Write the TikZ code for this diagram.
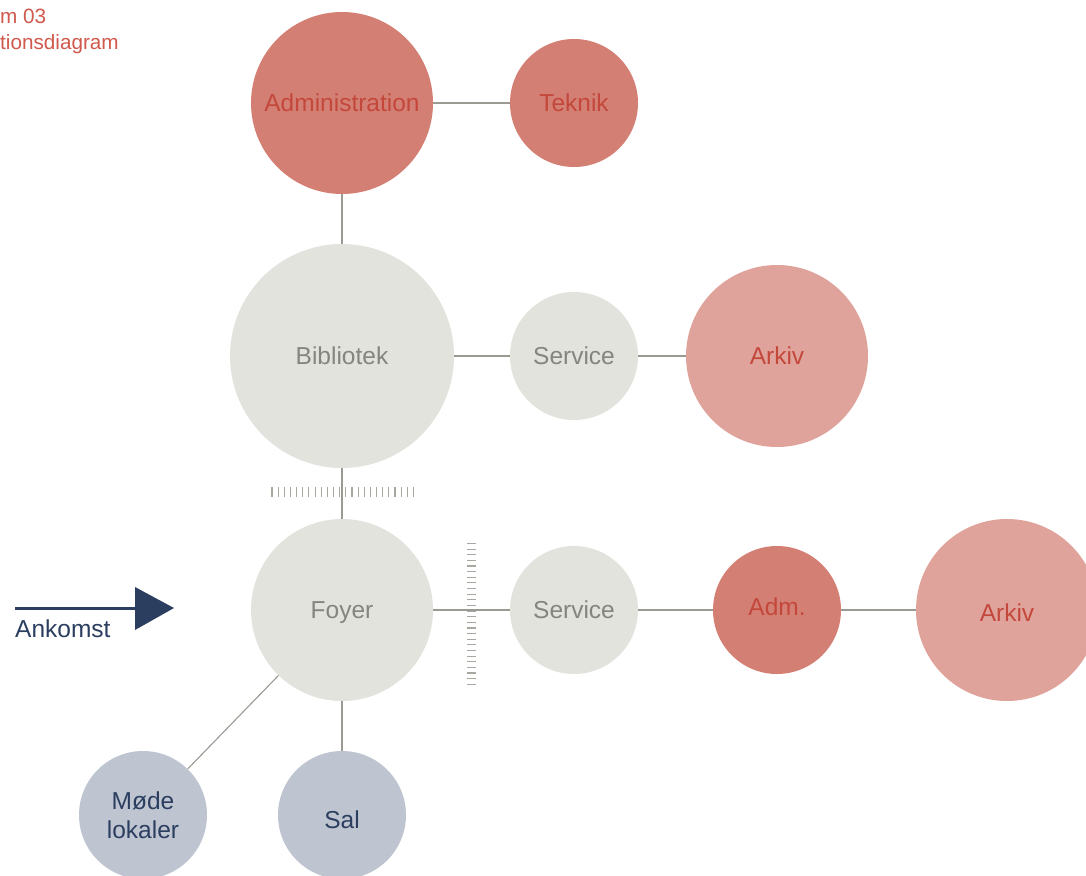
\documentclass[tikz,border=0pt]{standalone}
\usepackage{fontspec}
\setmainfont{Liberation Sans}
\definecolor{redfill}{HTML}{D47F73}
\definecolor{redtext}{HTML}{C4473C}
\definecolor{pinkfill}{HTML}{E0A39B}
\definecolor{greyfill}{HTML}{E3E3DD}
\definecolor{greytext}{HTML}{85857F}
\definecolor{bluefill}{HTML}{BFC5D0}
\definecolor{bluetext}{HTML}{2B3E60}
\definecolor{linecol}{HTML}{9A9A92}
\definecolor{tickcol}{HTML}{A8A8A0}
\definecolor{titlecol}{HTML}{D0594C}
\tikzset{
  bub/.style={circle, inner sep=0pt, font=\fontsize{24.5}{29}\selectfont, align=center},
  redbub/.style={bub, fill=redfill, text=redtext},
  pinkbub/.style={bub, fill=pinkfill, text=redtext},
  greybub/.style={bub, fill=greyfill, text=greytext},
  bluebub/.style={bub, fill=bluefill, text=bluetext},
  conn/.style={draw=linecol, line width=1.1pt},
  tick/.style={draw=tickcol, line width=1.1pt},
  lbl/.style={inner sep=0pt, font=\fontsize{24.5}{29}\selectfont, align=center},
}
\begin{document}
\begin{tikzpicture}[x=1pt,y=-1pt]
\clip (0,0) rectangle (1086,875);
\fill[white] (0,0) rectangle (1086,875);
% title (cropped at left)
\node[anchor=base west, inner sep=0pt, text=titlecol, font=\fontsize{20.7}{24}\selectfont] (t1) at (0,24) {m 03};
\node[anchor=base west, inner sep=0pt, text=titlecol, font=\fontsize{20.7}{24}\selectfont] (t2) at (0,50) {tionsdiagram};
% bubbles
\node[redbub, minimum size=182pt] (admin) at (342,103) {Administration};
\node[redbub, minimum size=128pt] (teknik) at (574,103) {Teknik};
\node[greybub, minimum size=224pt] (bib) at (342,356) {Bibliotek};
\node[greybub, minimum size=128pt] (serv1) at (574,356) {Service};
\node[pinkbub, minimum size=182pt] (ark1) at (777,356) {Arkiv};
\node[greybub, minimum size=182pt] (foyer) at (342,610) {};
\node[lbl, text=greytext] (foyertxt) at (342,613) {Foyer};
\node[greybub, minimum size=128pt] (serv2) at (574,610) {Service};
\node[redbub, minimum size=128pt] (adm) at (777,610) {};
\node[lbl, text=redtext] (admtxt) at (777,607) {Adm.};
\node[pinkbub, minimum size=182pt] (ark2) at (1007,610) {};
\node[lbl, text=redtext] (ark2txt) at (1007,613) {Arkiv};
\node[bluebub, minimum size=128pt] (mode) at (143,815) {Møde\\lokaler};
\node[bluebub, minimum size=128pt] (sal) at (342,815) {};
\node[lbl, text=bluetext] (saltxt) at (342,820) {Sal};
% connectors
\draw[conn] (admin) -- (teknik);
\draw[conn] (admin) -- (bib);
\draw[conn] (bib) -- (serv1);
\draw[conn] (serv1) -- (ark1);
\draw[conn] (bib) -- (foyer);
\draw[conn] (foyer) -- (serv2);
\draw[conn] (serv2) -- (adm);
\draw[conn] (adm) -- (ark2);
\draw[conn] (foyer) -- (mode);
\draw[conn] (foyer) -- (sal);
% hatches
\foreach \i in {0,...,23} {
  \draw[tick] ({272+\i*6.15},487) -- ({272+\i*6.15},497);
}
\foreach \i in {0,...,25} {
  \draw[tick] (467,{543.5+\i*5.63}) -- (476,{543.5+\i*5.63});
}
% arrival arrow
\coordinate (arrS) at (15,608);
\coordinate (arrE) at (138,608);
\draw[bluetext, line width=3pt] (arrS) -- (arrE);
\fill[bluetext] (135,587) -- (174,608) -- (135,630) -- cycle;
\node[anchor=base west, inner sep=0pt, text=bluetext, font=\fontsize{24.5}{28}\selectfont] (ank) at (15,637) {Ankomst};
\end{tikzpicture}
\end{document}
